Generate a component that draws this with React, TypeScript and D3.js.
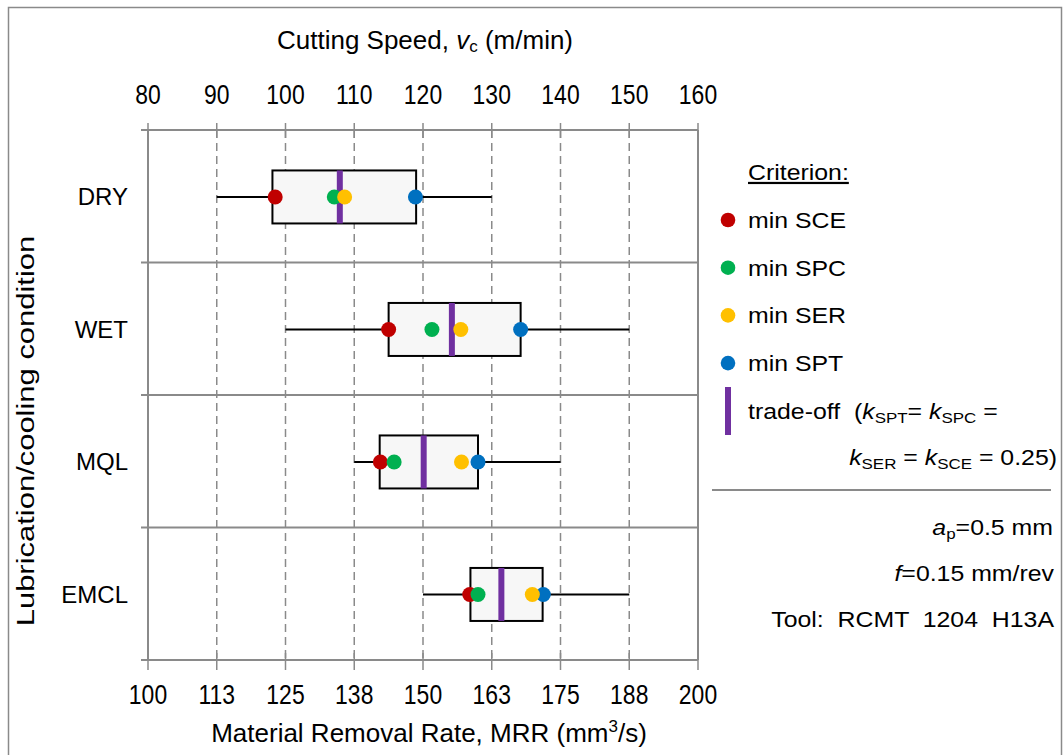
import React from "react";
import * as d3 from "d3";

// ---- data (cutting speed, m/min) ----
const conditions = ["DRY", "WET", "MQL", "EMCL"];
const whiskerLow = [90, 100, 110, 120];
const whiskerHigh = [130, 150, 140, 150];
const boxLow = [98.1, 115, 113.7, 126.9];
const boxHigh = [119, 134.2, 128, 137.4];
const minSCE = [98.5, 115, 113.8, 126.8];
const minSPC = [107.1, 121.3, 115.8, 128];
const minSER = [108.6, 125.5, 125.6, 135.9];
const minSPT = [118.9, 134.2, 128, 137.5];
const tradeOff = [107.9, 124.2, 120.1, 131.4];

const topTicks = [80, 90, 100, 110, 120, 130, 140, 150, 160];
const mrrTicks = [100, 112.5, 125, 137.5, 150, 162.5, 175, 187.5, 200];
const mrrTickLabels = ["100", "113", "125", "138", "150", "163", "175", "188", "200"];

const legendLabels = ["min SCE", "min SPC", "min SER", "min SPT"];
const legendColors = ["#C00000", "#00B050", "#FFC000", "#0070C0"];

const FONT = "'Liberation Sans', Arial, Helvetica, sans-serif";
const GRAY = "#8a8a8a";
const PURPLE = "#7030A0";

type TP = {
  x: number;
  y: number;
  sx?: number;
  rot?: number;
  anchor?: "start" | "middle" | "end";
  size: number;
  children: React.ReactNode;
  underline?: boolean;
};
function T({ x, y, sx = 1, rot, anchor = "start", size, children, underline }: TP) {
  return (
    <text
      transform={`translate(${x},${y})${rot ? ` rotate(${rot})` : ""} scale(${sx},1)`}
      textAnchor={anchor}
      fontSize={size}
      fontFamily={FONT}
      fill="#000"
      textDecoration={underline ? "underline" : undefined}
      style={{ whiteSpace: "pre" }}
    >
      {children}
    </text>
  );
}

export default function App() {
  const W = 1063;
  const H = 755;
  const left = 148;
  const right = 698;
  const top = 130;
  const bottom = 660;

  const x = d3.scaleLinear().domain([80, 160]).range([left, right]);
  const xm = d3.scaleLinear().domain([100, 200]).range([left, right]);
  const y = d3.scaleBand<string>().domain(conditions).range([top, bottom]);
  const bw = y.bandwidth();
  const boxH = bw * 0.4;
  const r = 7.5;

  const seriesOrder = [
    { vals: minSPT, color: legendColors[3] },
    { vals: minSCE, color: legendColors[0] },
    { vals: minSPC, color: legendColors[1] },
    { vals: minSER, color: legendColors[2] },
  ];

  const legX = 728;
  const legTextX = 748;
  const legY0 = 220;
  const legStep = 47.7;
  const legSx = 1.13;

  return (
    <svg
      width={W}
      height={H}
      style={{ position: "absolute", left: 0, top: 0, background: "#fff" }}
    >
      <rect x={0} y={0} width={W} height={H} fill="#fff" />
      <rect x={8.5} y={7.5} width={1053} height={780} fill="none" stroke={GRAY} strokeWidth={1.5} />

      {/* dashed gridlines */}
      {topTicks.slice(1, -1).map((t) => (
        <line
          key={"g" + t}
          x1={x(t)}
          x2={x(t)}
          y1={top}
          y2={bottom}
          stroke={GRAY}
          strokeWidth={1.5}
          strokeDasharray="8,5"
        />
      ))}

      {/* row separators */}
      {conditions.slice(1).map((c) => (
        <line
          key={"s" + c}
          x1={left - 7}
          x2={right}
          y1={y(c)!}
          y2={y(c)!}
          stroke={GRAY}
          strokeWidth={2}
        />
      ))}

      {/* frame axes */}
      <line x1={left - 7} x2={right} y1={top} y2={top} stroke={GRAY} strokeWidth={2} />
      <line x1={left - 7} x2={right} y1={bottom} y2={bottom} stroke={GRAY} strokeWidth={2} />
      <line x1={left} x2={left} y1={top} y2={bottom} stroke={GRAY} strokeWidth={2} />
      <line x1={right} x2={right} y1={top} y2={bottom} stroke={GRAY} strokeWidth={2} />

      {/* top ticks */}
      {topTicks.map((t) => (
        <g key={"tt" + t}>
          <line x1={x(t)} x2={x(t)} y1={top - 7} y2={top + 8} stroke={GRAY} strokeWidth={1.5} />
          <T x={x(t)} y={104} size={27} sx={0.85} anchor="middle">
            {String(t)}
          </T>
        </g>
      ))}

      {/* bottom ticks */}
      {mrrTicks.map((t, i) => (
        <g key={"bt" + t}>
          <line x1={xm(t)} x2={xm(t)} y1={bottom - 7} y2={bottom + 10} stroke={GRAY} strokeWidth={1.5} />
          <T x={xm(t)} y={704} size={27} sx={0.85} anchor="middle">
            {mrrTickLabels[i]}
          </T>
        </g>
      ))}

      {/* axis titles */}
      <T x={(left + right) / 2 + 2} y={49} size={26} anchor="middle">
        Cutting Speed,{" "}
        <tspan fontStyle="italic">v</tspan>
        <tspan fontSize={17} dy={3}>c</tspan>
        <tspan dy={-3}> (m/min)</tspan>
      </T>
      <T x={(left + right) / 2 + 6} y={742} size={26} anchor="middle">
        {"Material Removal Rate, MRR (mm"}
        <tspan fontSize={17} dy={-10}>3</tspan>
        <tspan dy={10}>/s)</tspan>
      </T>
      <T x={34} y={431} size={24} rot={-90} sx={1.29} anchor="middle">
        {"Lubrication/cooling condition"}
      </T>

      {/* category labels */}
      {conditions.map((c) => (
        <T key={"cl" + c} x={128} y={y(c)! + bw / 2 + 9} size={24} anchor="end">
          {c}
        </T>
      ))}

      {/* boxes */}
      {conditions.map((c, i) => {
        const cy = y(c)! + bw / 2 + 0.7;
        return (
          <g key={"b" + c}>
            <line
              x1={x(whiskerLow[i])}
              x2={x(whiskerHigh[i])}
              y1={cy}
              y2={cy}
              stroke="#000"
              strokeWidth={2}
            />
            <rect
              x={x(boxLow[i])}
              y={cy - boxH / 2}
              width={x(boxHigh[i]) - x(boxLow[i])}
              height={boxH}
              fill="#f7f7f7"
              stroke="#000"
              strokeWidth={2}
            />
            <line
              x1={x(tradeOff[i])}
              x2={x(tradeOff[i])}
              y1={cy - boxH / 2}
              y2={cy + boxH / 2}
              stroke={PURPLE}
              strokeWidth={6}
            />
            {seriesOrder.map((s, k) => (
              <circle key={k} cx={x(s.vals[i])} cy={cy} r={r} fill={s.color} />
            ))}
          </g>
        );
      })}

      {/* legend */}
      <T x={legTextX} y={180} size={22} sx={legSx} underline>
        Criterion:
      </T>
      {legendLabels.map((l, i) => (
        <g key={"lg" + l}>
          <circle cx={legX} cy={legY0 + i * legStep} r={7.3} fill={legendColors[i]} />
          <T x={legTextX} y={legY0 + i * legStep + 8} size={22} sx={legSx}>
            {l}
          </T>
        </g>
      ))}
      <line x1={legX} x2={legX} y1={387} y2={435} stroke={PURPLE} strokeWidth={6} />
      <T x={legTextX} y={419} size={22} sx={legSx}>
        {"trade-off  ("}
        <tspan fontStyle="italic">k</tspan>
        <tspan fontSize={15} dy={4}>SPT</tspan>
        <tspan dy={-4}>{"= "}</tspan>
        <tspan fontStyle="italic">k</tspan>
        <tspan fontSize={15} dy={4}>SPC</tspan>
        <tspan dy={-4}>{" ="}</tspan>
      </T>
      <T x={1057} y={465} size={22} sx={legSx} anchor="end">
        <tspan fontStyle="italic">k</tspan>
        <tspan fontSize={15} dy={4}>SER</tspan>
        <tspan dy={-4}>{" = "}</tspan>
        <tspan fontStyle="italic">k</tspan>
        <tspan fontSize={15} dy={4}>SCE</tspan>
        <tspan dy={-4}>{" = 0.25)"}</tspan>
      </T>
      <line x1={712} x2={1051} y1={490} y2={490} stroke={GRAY} strokeWidth={2} />
      <T x={1053} y={535} size={22} sx={legSx} anchor="end">
        <tspan fontStyle="italic">a</tspan>
        <tspan fontSize={15} dy={4}>p</tspan>
        <tspan dy={-4}>=0.5 mm</tspan>
      </T>
      <T x={1054} y={581} size={22} sx={legSx} anchor="end">
        <tspan fontStyle="italic">f</tspan>
        =0.15 mm/rev
      </T>
      <T x={1054} y={627} size={22} sx={legSx} anchor="end">
        {"Tool:  RCMT  1204  H13A"}
      </T>
    </svg>
  );
}
